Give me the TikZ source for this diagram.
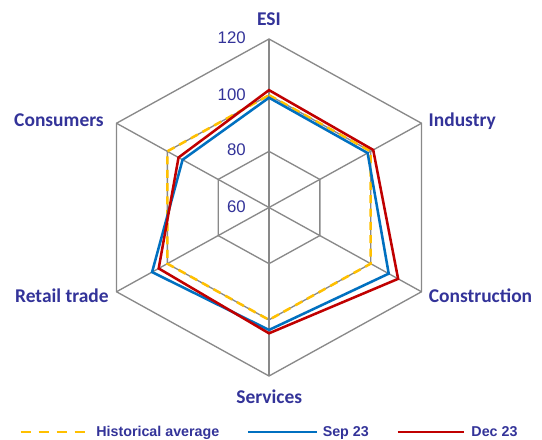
\documentclass[tikz,border=0pt]{standalone}
\usepackage{fontspec}
\setmainfont{Liberation Sans}
\newfontfamily\calib{Carlito}
\definecolor{gridgray}{HTML}{898989}
\definecolor{histyellow}{HTML}{FFC000}
\definecolor{sepblue}{HTML}{0070C0}
\definecolor{decred}{HTML}{C00000}
\definecolor{labblue}{HTML}{333399}
\begin{document}
\begin{tikzpicture}[x=0.75pt,y=-0.75pt,
  grid/.style={draw=gridgray,line width=1pt},
  ser/.style={line width=1.9pt,line join=miter},
  hist/.style={ser,draw=histyellow,dash pattern=on 6pt off 4pt},
  histleg/.style={ser,draw=histyellow,dash pattern=on 7.5pt off 6pt},
  sep/.style={ser,draw=sepblue},
  dec/.style={ser,draw=decred},
  cat/.style={text=labblue,font=\calib\bfseries\fontsize{14.6}{17}\selectfont,inner sep=0pt,anchor=base},
  tick/.style={text=labblue,font=\fontsize{12.6}{14}\selectfont,inner sep=0pt,anchor=base east},
  leg/.style={text=labblue,font=\bfseries\fontsize{10.7}{12}\selectfont,inner sep=0pt,anchor=base west}]
\useasboundingbox[fill=white] (0,0) rectangle (542,439);
\coordinate (O) at (269,207.5);
\foreach \a/\n in {90/E,30/I,-30/C,-90/S,-150/R,150/K}{
  \foreach \v in {80,100,120}{
    \coordinate (g\n\v) at ({269+176.09*(\v-60)/60*cos(\a)},{207.5-168.5*(\v-60)/60*sin(\a)});
  }
}
\foreach \a/\n/\s/\d in {90/E/99.1/101.8,30/I/98.8/101,-30/C/107.1/110.8,-90/S/103.6/104.8,-150/R/106/103.4,150/K/94/95.6}{
  \coordinate (s\n) at ({269+176.09*(\s-60)/60*cos(\a)},{207.5-168.5*(\s-60)/60*sin(\a)});
  \coordinate (d\n) at ({269+176.09*(\d-60)/60*cos(\a)},{207.5-168.5*(\d-60)/60*sin(\a)});
}
% grid
\foreach \v in {80,100,120}
  \draw[grid] (gE\v) -- (gI\v) -- (gC\v) -- (gS\v) -- (gR\v) -- (gK\v) -- cycle;
\foreach \n in {E,I,C,S,R,K}
  \draw[grid] (O) -- (g\n120);
% series
\draw[hist] (gE100) -- (gI100) -- (gC100) -- (gS100) -- (gR100) -- (gK100) -- cycle;
\draw[sep] (sE) -- (sI) -- (sC) -- (sS) -- (sR) -- (sK) -- cycle;
\draw[dec] (dE) -- (dI) -- (dC) -- (dS) -- (dR) -- (dK) -- cycle;
% tick labels
\node[tick] (t120) at (246,43.7) {120};
\node[tick] (t100) at (246,100) {100};
\node[tick] (t80) at (246,155.7) {80};
\node[tick] (t60) at (246,212.7) {60};
% category labels
\node[cat] (lE) at (269,25) {ESI};
\node[cat] (lI) at (462.2,126) {Industry};
\node[cat] (lC) at (480.5,302.6) {Construction};
\node[cat] (lS) at (269.3,403.5) {Services};
\node[cat] (lR) at (61.9,302.6) {Retail trade};
\node[cat] (lK) at (59,126) {Consumers};
% legend
\coordinate (h1) at (20.7,431.8);
\coordinate (h2) at (85.7,431.8);
\coordinate (b1) at (247.8,431.8);
\coordinate (b2) at (317,431.8);
\coordinate (r1) at (397.5,431.8);
\coordinate (r2) at (464.2,431.8);
\draw[histleg] (h1) -- (h2);
\draw[sep] (b1) -- (b2);
\draw[dec] (r1) -- (r2);
\node[leg] (lh) at (96.1,436.3) {Historical average};
\node[leg] (ls) at (322.5,436.3) {Sep 23};
\node[leg] (ld) at (471.2,436.3) {Dec 23};
\end{tikzpicture}
\end{document}
